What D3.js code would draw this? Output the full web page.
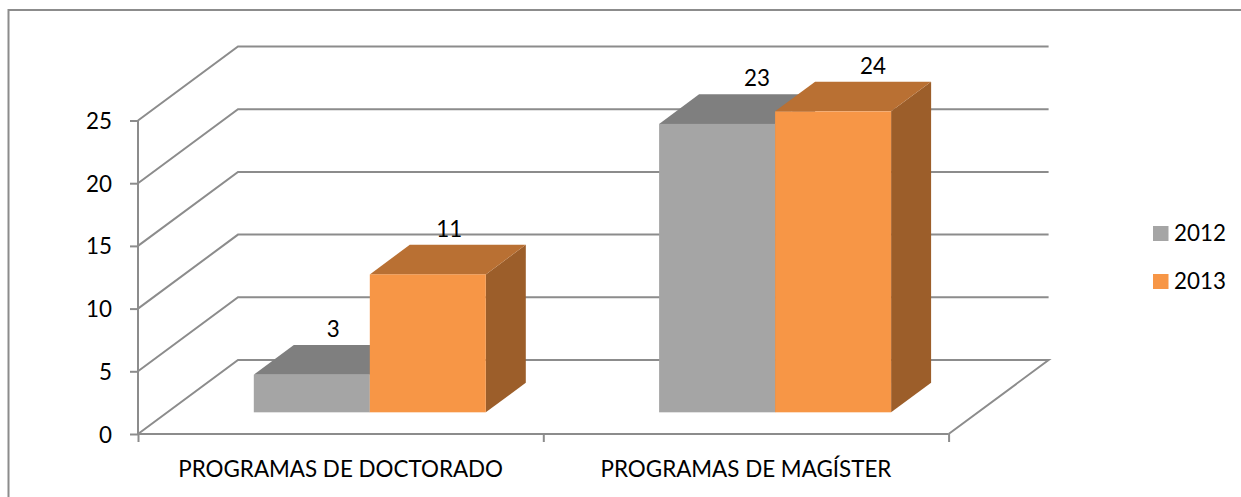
<!DOCTYPE html>
<html>
<head>
<meta charset="utf-8">
<script src="https://cdn.jsdelivr.net/npm/d3@7"></script>
<style>
  html, body { margin: 0; background: #fff; overflow: hidden; }
  text { font-family: Lato, "Open Sans", sans-serif; fill: #000; }
</style>
</head>
<body>
<svg id="viz" width="1241" height="497"></svg>
<script>
var categories = ["PROGRAMAS DE DOCTORADO", "PROGRAMAS DE MAGÍSTER"];
var seriesNames = ["2012", "2013"];
var values2012 = [3, 23];
var values2013 = [11, 24];
var yTicks = [0, 5, 10, 15, 20, 25];

var colors = {
    "2012": { front: "#a5a5a5", top: "#7f7f7f", side: "#6e6e6e" },
    "2013": { front: "#f79646", top: "#b97033", side: "#9c5e2a" }
};
var lineColor = "#8c8c8c";
var fontSize = "22.4px";

var svg = d3.select("#viz");

// frame of the chart area, runs off the right and bottom of the picture
svg.append("path")
    .attr("d", "M1245,10H8.5V500")
    .attr("fill", "none")
    .attr("stroke", lineColor)
    .attr("stroke-width", 2);

// SCALES
var yScale = d3.scaleLinear().domain([0, 25]).range([434, 120.5]);
var xScale = d3.scaleBand().domain(categories).range([138, 948.6]);
var xSeries = d3.scaleBand().domain(seriesNames).range([86.5, 318.5]);

// depth goes 0 (front) to 1 (back wall)
var depthX = 100, depthY = 74;
function px(x, d) { return x + depthX * d; }
function py(v, d) { return yScale(v) - depthY * d; }

// GRID: floor side + back wall lines
var grid = svg.append("g").attr("fill", "none").attr("stroke", lineColor).attr("stroke-width", 2);
grid.selectAll("path")
    .data(yTicks.slice(1))
    .enter().append("path")
    .attr("d", function (v) {
        return "M" + px(138, 0) + "," + py(v, 0) + "L" + px(138, 1) + "," + py(v, 1) + "H" + px(948.6, 1);
    });
grid.append("path")
    .attr("d", "M" + px(138, 0) + "," + py(0, 0) + "L" + px(138, 1) + "," + py(0, 1) + "H" + px(948.6, 1) +
        "L" + px(948.6, 0) + "," + py(0, 0));

// AXES
var yAxis = d3.axisLeft(yScale).tickValues(yTicks).tickSize(8).tickPadding(18);
var yG = svg.append("g").attr("transform", "translate(138,0)").call(yAxis);
var xEdges = d3.scaleLinear().domain([0, categories.length]).range([138, 948.6]);
var xAxis = d3.axisBottom(xEdges).tickValues(d3.range(categories.length + 1)).tickSize(8).tickFormat("");
var xG = svg.append("g").attr("transform", "translate(0,434)").call(xAxis);
[yG, xG].forEach(function (g) {
    g.selectAll("path, line").attr("stroke", lineColor).attr("stroke-width", 2);
    g.select(".domain").attr("d", g === yG ? "M0,120.5V434" : "M138,0H948.6");
});
yG.selectAll("text")
    .style("font-size", fontSize)
    .attr("dy", "0.36em");

svg.append("g").selectAll("text")
    .data(categories)
    .enter().append("text")
    .attr("x", function (d) { return xScale(d) + xScale.bandwidth() / 2; })
    .attr("y", 477)
    .attr("text-anchor", "middle")
    .style("font-size", fontSize)
    .text(function (d) { return d; });

// BARS, 2012 first so 2013 covers its side
var barDepthFront = 0.293, barDepthBack = 0.693;
var seriesData = [values2012, values2013];
seriesNames.forEach(function (name, s) {
    var g = svg.append("g").attr("class", "series-" + name);
    categories.forEach(function (cat, i) {
        var v = seriesData[s][i];
        var x0 = xScale(cat) + xSeries(name), x1 = x0 + xSeries.bandwidth();
        var a = barDepthFront, b = barDepthBack;
        // right side
        g.append("path")
            .attr("fill", colors[name].side)
            .attr("d", d3.line()([
                [px(x1, a), py(0, a)], [px(x1, b), py(0, b)],
                [px(x1, b), py(v, b)], [px(x1, a), py(v, a)]
            ]) + "Z");
        // top
        g.append("path")
            .attr("fill", colors[name].top)
            .attr("d", d3.line()([
                [px(x0, a), py(v, a)], [px(x0, b), py(v, b)],
                [px(x1, b), py(v, b)], [px(x1, a), py(v, a)]
            ]) + "Z");
        // front
        g.append("rect")
            .attr("fill", colors[name].front)
            .attr("x", px(x0, a))
            .attr("y", py(v, a))
            .attr("width", xSeries.bandwidth())
            .attr("height", py(0, a) - py(v, a));
    });
});

// DATA LABELS, drawn last
seriesNames.forEach(function (name, s) {
    categories.forEach(function (cat, i) {
        var v = seriesData[s][i];
        var x0 = xScale(cat) + xSeries(name);
        svg.append("text")
            .attr("x", px(x0 + xSeries.bandwidth() / 2, barDepthBack - 0.2) + (i === 0 ? 1.5 : 20))
            .attr("y", py(v, barDepthBack) - 8)
            .attr("text-anchor", "middle")
            .style("font-size", fontSize)
            .text(v);
    });
});

// LEGEND
var legend = svg.append("g").selectAll("g")
    .data(seriesNames)
    .enter().append("g")
    .attr("transform", function (d, i) { return "translate(1153," + (226 + i * 48) + ")"; });
legend.append("rect")
    .attr("width", 15.5)
    .attr("height", 15)
    .attr("fill", function (d) { return colors[d].front; });
legend.append("text")
    .attr("x", 21)
    .attr("y", 15)
    .style("font-size", fontSize)
    .text(function (d) { return d; });
</script>
</body>
</html>
